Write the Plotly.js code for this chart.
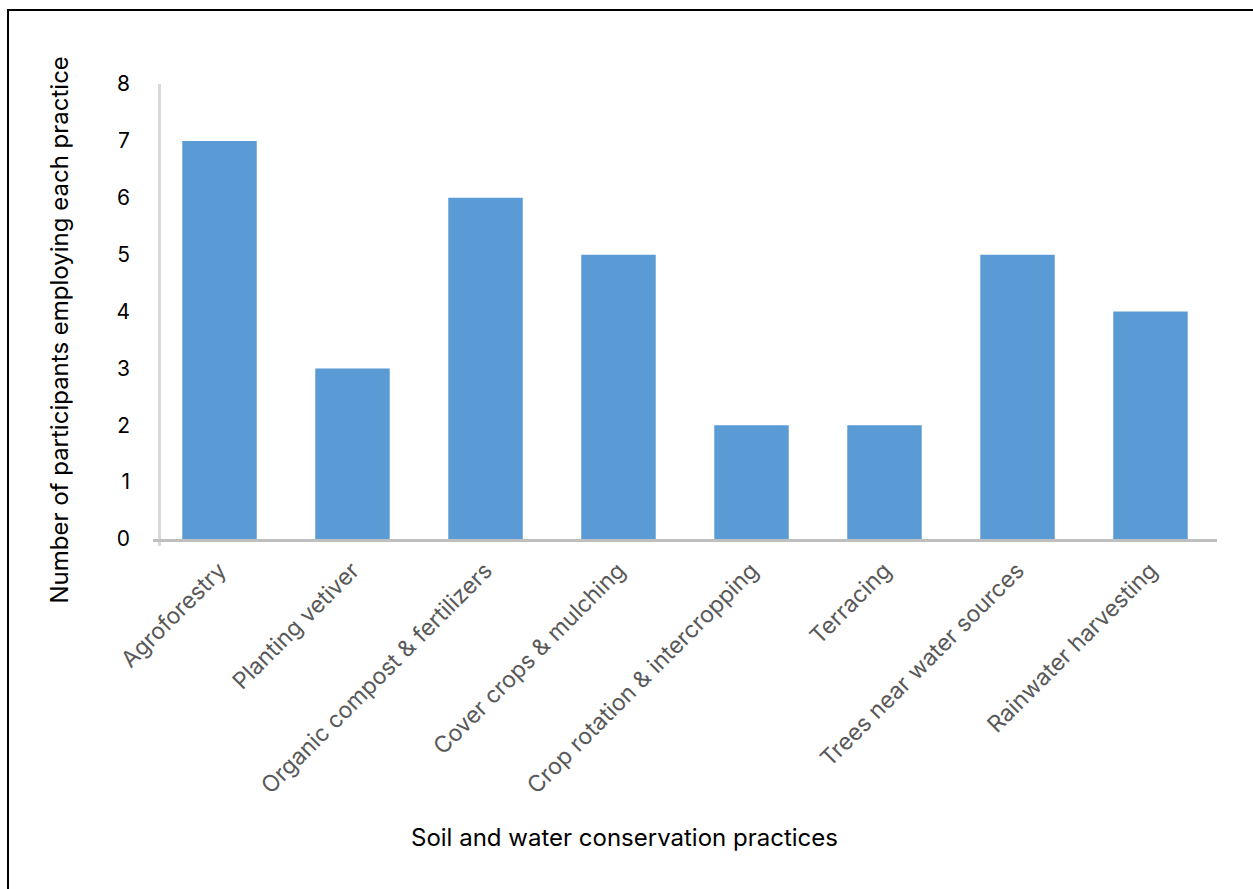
<!DOCTYPE html>
<html>
<head>
<meta charset="utf-8">
<script src="https://cdn.plot.ly/plotly-3.0.1.min.js"></script>
<style>
html,body{margin:0;padding:0;background:#fff;overflow:hidden;}
#chart{width:1253px;height:889px;position:absolute;left:0;top:0;}
#frame{position:absolute;left:7px;top:9px;width:1260px;height:900px;border-left:2px solid #000;border-top:2px solid #000;pointer-events:none;}
</style>
</head>
<body>
<div id="chart"></div>
<div id="frame"></div>
<script>
const categories = ["Agroforestry","Planting vetiver","Organic compost & fertilizers","Cover crops & mulching","Crop rotation & intercropping","Terracing","Trees near water sources","Rainwater harvesting"];
const participants = [7,3,6,5,2,2,5,4];
const yTicks = [0,1,2,3,4,5,6,7,8];
const xTitle = 'Soil and water conservation practices';
const yTitle = 'Number of participants employing each practice';

const W = 1253, H = 889;
const L = 152.5, R = 1217.5, T = 84, B = 539;
const px = x => (x - L) / (R - L);
const py = y => (B - y) / (B - T);

const trace = {
  type: 'bar',
  x: categories,
  y: participants,
  marker: {color: '#5b9bd5', line: {width: 0}},
  hoverinfo: 'x+y'
};

const layout = {
  width: W, height: H,
  margin: {l: L, r: W - R, t: T, b: H - B, pad: 0},
  paper_bgcolor: '#ffffff',
  plot_bgcolor: '#ffffff',
  bargap: 0.44,
  showlegend: false,
  font: {family: 'Inter, "Open Sans", sans-serif', color: '#000'},
  xaxis: {
    type: 'category',
    range: [-0.5, 7.5],
    tickangle: -45,
    tickfont: {size: 23, color: '#595959'},
    ticklabelstandoff: 6,
    showline: true, linecolor: '#bfbfbf', linewidth: 3,
    ticks: '', showgrid: false, zeroline: false,
    automargin: false
  },
  yaxis: {
    range: [0, 8],
    tickvals: yTicks,
    ticktext: yTicks.map(String),
    tickfont: {size: 21, color: '#000'},
    showline: false, showgrid: false, zeroline: false,
    ticks: '', ticklabelstandoff: 22,
    automargin: false
  },
  annotations: [
    {text: xTitle, xref: 'paper', yref: 'paper', x: px(624), y: py(837),
     xanchor: 'center', yanchor: 'middle', showarrow: false,
     font: {size: 24, color: '#000'}},
    {text: yTitle, xref: 'paper', yref: 'paper', x: px(58), y: py(330),
     xanchor: 'center', yanchor: 'middle', showarrow: false, textangle: -90,
     font: {size: 24, color: '#000'}}
  ],
  shapes: [
    {type: 'line', xref: 'paper', yref: 'paper',
     x0: px(159), x1: px(159),
     y0: -7 / (B - T), y1: 1, line: {color: '#d9d9d9', width: 3}, layer: 'below'}
  ]
};

Plotly.newPlot('chart', [trace], layout, {displayModeBar: false, staticPlot: true});
</script>
</body>
</html>
